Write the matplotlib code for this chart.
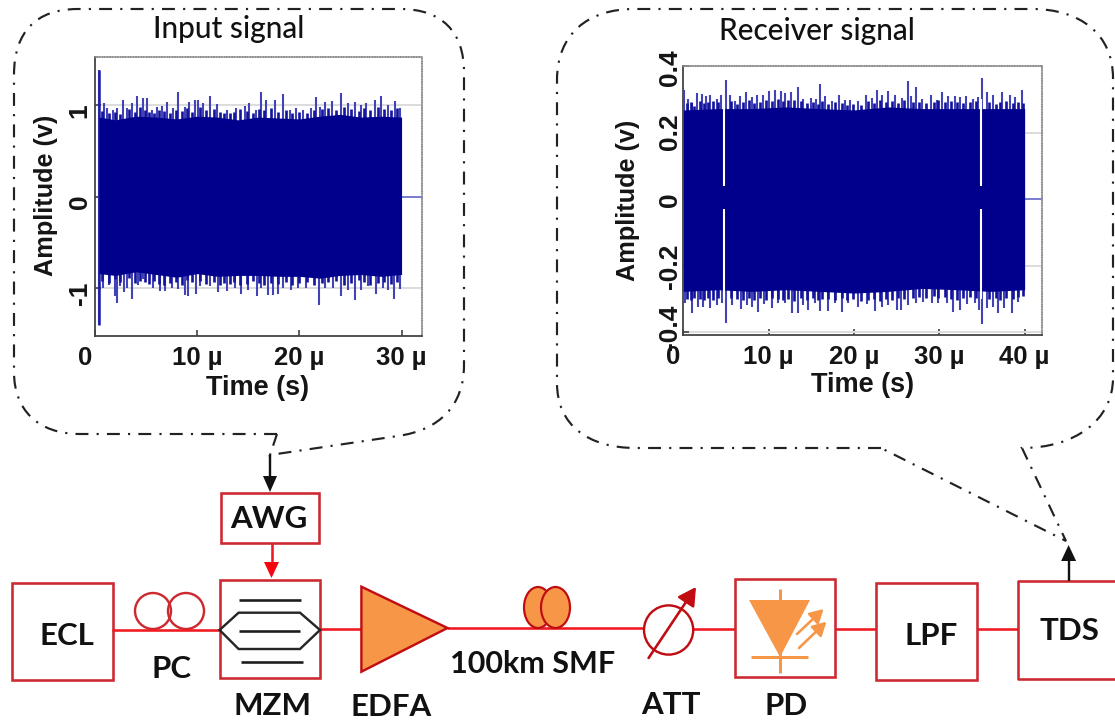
import matplotlib
matplotlib.use("Agg")
import matplotlib.pyplot as plt
from matplotlib.path import Path
from matplotlib.patches import PathPatch, Rectangle, Circle, Ellipse, Polygon
from matplotlib.transforms import ScaledTranslation

W, H = 1115, 724

# ---------- input signal ----------
in_up_t = [0.39,0.88,1.14,1.79,2.12,2.70,3.09,3.58,4.07,4.66,5.05,5.54,6.02,6.51,7.07,7.59,8.14,8.79,9.22,9.77,
           10.10,10.58,11.30,11.89,12.87,13.84,14.66,15.08,15.80,16.22,16.77,17.59,18.40,19.05,19.71,20.36,21.17,
           21.59,21.99,22.47,23.22,24.10,24.75,25.41,26.06,26.55,27.36,28.01,28.66,29.31,29.80]
in_up_v = [1.39,1.02,0.97,0.95,0.97,1.06,0.97,1.02,1.10,1.08,1.08,0.95,0.98,0.99,1.03,0.97,1.14,0.98,1.04,1.06,
           1.06,1.02,1.10,1.01,0.95,0.97,0.99,1.02,0.95,1.14,1.06,1.06,1.12,0.95,0.97,0.95,0.97,
           1.09,0.98,1.03,1.05,1.13,1.02,1.03,1.00,1.02,1.06,1.10,1.00,1.05,0.97]
in_lo_t = [0.39,0.81,1.40,1.95,2.18,2.44,2.83,3.16,3.61,4.23,4.72,5.70,6.35,6.84,7.49,8.14,8.79,9.12,9.87,10.26,
           11.24,12.05,12.87,13.68,14.33,14.98,15.86,16.29,16.94,17.43,17.91,18.40,19.22,19.87,20.68,21.92,22.47,
           23.29,24.10,24.75,25.47,26.06,26.71,27.46,28.18,28.66,29.22,29.80]
in_lo_v = [-1.40,-1.00,-0.96,-1.09,-1.16,-0.98,-1.04,-1.00,-1.12,-0.96,-0.90,-1.00,-1.03,-1.03,-1.00,-1.01,-1.07,-1.09,-1.06,-0.98,
           -0.98,-1.04,-1.03,-1.00,-1.06,-1.02,-1.08,-1.00,-1.07,-1.07,-1.06,-1.00,-1.02,-1.00,-1.00,-1.18,-1.00,
           -1.00,-1.08,-1.02,-1.13,-1.02,-0.98,-1.06,-1.00,-1.02,-1.12,-1.01]
in_core_t = [0.4,2,4,6,8,10,12,14,16,18,20,22,24,26,28,30]
in_core_up = [0.87,0.84,0.88,0.87,0.85,0.88,0.87,0.84,0.87,0.86,0.85,0.88,0.90,0.87,0.88,0.87]
in_core_lo = [-0.84,-0.86,-0.82,-0.85,-0.88,-0.84,-0.87,-0.86,-0.86,-0.87,-0.87,-0.89,-0.86,-0.85,-0.87,-0.85]
in_edge_t = [0.7,1.4,2.0,2.4,3.3,3.9,4.4,4.9,5.3,5.8,6.3,6.8,7.3,7.9,8.5,9.0,9.5,10.3,10.9,11.6,12.2,12.6,13.2,13.6,
             14.2,14.9,15.5,16.0,16.5,17.2,17.9,18.7,19.3,20.0,20.7,21.4,22.2,22.8,23.6,24.4,25.1,25.8,26.3,26.9,
             27.7,28.3,29.0,29.6]
in_edge_up = [0.94,0.91,0.93,0.90,0.96,0.93,0.98,0.95,0.93,0.92,0.95,0.94,0.91,0.95,0.94,0.97,0.93,0.98,0.95,0.96,0.93,
              0.91,0.92,0.93,0.96,0.94,0.92,0.96,0.95,0.97,0.93,0.95,0.91,0.93,0.92,0.95,0.96,0.97,0.95,0.98,0.96,0.94,
              0.97,0.95,0.98,0.96,0.95,0.97]
in_edge_lo = [-0.92,-0.94,-0.90,-0.93,-0.89,-0.94,-0.92,-0.93,-0.95,-0.92,-0.95,-0.96,-0.94,-0.93,-0.96,-0.91,-0.93,-0.92,
              -0.95,-0.93,-0.96,-0.94,-0.95,-0.93,-0.97,-0.95,-0.92,-0.94,-0.96,-0.94,-0.95,-0.93,-0.96,-0.94,-0.93,-0.96,
              -0.94,-0.93,-0.92,-0.96,-0.94,-0.91,-0.93,-0.96,-0.94,-0.93,-0.95,-0.93]
in_xticks = [0, 10, 20, 30]
in_xlabels = ["0", "10 µ", "20 µ", "30 µ"]
in_yticks = [-1, 0, 1]
in_ylabels = ["-1", "0", "1"]

# ---------- receiver signal ----------
rx_up_t = [0.12,0.59,1.06,1.57,2.16,2.62,3.13,3.91,4.38,4.97,5.48,6.06,6.65,7.35,8.01,8.60,9.38,10.05,10.75,11.45,
           11.92,12.62,13.48,14.07,14.97,15.51,16.02,16.61,17.39,18.25,18.95,19.54,20.51,21.37,22.08,22.66,23.33,
           24.03,24.81,25.59,26.30,26.65,27.23,27.94,29.03,29.69,30.28,31.06,31.84,32.43,33.09,33.99,34.50,35.05,
           35.55,36.33,37.39,38.29,38.87,39.66]
rx_up_v = [0.327,0.300,0.289,0.319,0.317,0.311,0.314,0.300,0.314,0.359,0.314,0.294,0.309,0.322,0.307,0.314,0.314,0.324,0.329,0.324,
           0.319,0.321,0.337,0.300,0.304,0.300,0.347,0.311,0.294,0.314,0.297,0.299,0.294,0.314,0.304,0.327,0.314,
           0.324,0.314,0.304,0.354,0.309,0.337,0.300,0.314,0.299,0.321,0.309,0.311,0.307,0.309,0.300,0.307,0.364,
           0.321,0.314,0.321,0.314,0.307,0.327]
rx_lo_t = [0.20,1.06,1.69,2.35,3.13,3.91,4.50,4.97,5.67,6.76,7.43,8.10,8.80,9.50,10.36,11.06,11.92,12.78,13.41,14.07,
           14.66,15.44,16.02,16.92,17.78,18.56,19.34,20.51,21.49,22.47,23.25,24.03,25.00,25.51,26.37,27.23,28.13,
           29.11,29.89,30.87,31.65,32.43,33.21,34.19,34.65,35.05,35.55,36.33,36.92,37.63,38.48,39.27]
rx_lo_v = [-0.313,-0.341,-0.323,-0.325,-0.328,-0.318,-0.313,-0.373,-0.318,-0.331,-0.318,-0.323,-0.338,-0.315,-0.328,-0.313,-0.313,-0.343,-0.343,-0.318,
           -0.333,-0.313,-0.335,-0.335,-0.313,-0.338,-0.313,-0.323,-0.315,-0.335,-0.325,-0.318,-0.333,-0.333,-0.318,-0.313,-0.308,
           -0.313,-0.311,-0.313,-0.338,-0.333,-0.315,-0.313,-0.333,-0.376,-0.328,-0.323,-0.343,-0.328,-0.341,-0.308]
rx_core_t = [0,4,8,12,16,20,24,28,32,36,40]
rx_core_up = [0.268,0.272,0.272,0.277,0.272,0.268,0.277,0.272,0.272,0.272,0.272]
rx_core_lo = [-0.277,-0.272,-0.277,-0.272,-0.277,-0.282,-0.277,-0.268,-0.272,-0.277,-0.272]
rx_edge_t = [0.4,0.9,1.3,1.9,2.4,2.9,3.5,4.1,5.6,6.3,7.0,7.7,8.3,9.0,9.7,10.4,11.1,11.7,12.3,13.0,13.8,14.5,15.2,15.8,
             16.3,17.0,17.8,18.6,19.2,19.9,20.8,21.7,22.3,23.0,23.7,24.4,25.2,25.9,26.9,27.6,28.4,29.4,29.9,30.7,31.4,
             32.1,32.8,33.6,34.3,35.8,36.6,37.1,37.8,38.6,39.2,39.8]
rx_edge_up = [0.288,0.291,0.281,0.294,0.289,0.292,0.296,0.291,0.295,0.285,0.292,0.298,0.290,0.293,0.298,0.296,0.301,0.294,
              0.297,0.299,0.295,0.290,0.293,0.287,0.296,0.285,0.291,0.288,0.284,0.287,0.283,0.294,0.290,0.298,0.293,0.295,
              0.288,0.297,0.291,0.293,0.289,0.292,0.297,0.291,0.295,0.293,0.289,0.292,0.294,0.293,0.287,0.292,0.295,0.288,
              0.293,0.290]
rx_edge_lo = [-0.299,-0.302,-0.296,-0.300,-0.304,-0.297,-0.303,-0.298,-0.296,-0.300,-0.303,-0.297,-0.302,-0.298,-0.304,-0.296,
              -0.299,-0.303,-0.300,-0.305,-0.298,-0.302,-0.296,-0.304,-0.301,-0.299,-0.303,-0.297,-0.302,-0.300,-0.305,-0.303,
              -0.301,-0.306,-0.299,-0.303,-0.298,-0.301,-0.296,-0.294,-0.298,-0.292,-0.297,-0.294,-0.299,-0.302,-0.296,-0.294,
              -0.298,-0.300,-0.296,-0.302,-0.298,-0.300,-0.293,-0.290]
rx_gap_t = [4.75, 34.9]
rx_gap_inner = [0.04, -0.03]
rx_gap_outer = [0.30, -0.30]
rx_xticks = [0, 10, 20, 30, 40]
rx_xlabels = ["0", "10 µ", "20 µ", "30 µ", "40 µ"]
rx_yticks = [-0.4, -0.2, 0, 0.2, 0.4]
rx_ylabels = ["-0.4", "-0.2", "0", "0.2", "0.4"]

NAVY = "#00008c"
SPIKE = "#4343b8"
TAIL = "#6a6ad0"
RED = "#ef1a22"
BOX = "#cc2a30"
DARKRED = "#c00d12"
ORANGE = "#f79646"
INK = "#1c1c1c"
TICKFONT = "Liberation Sans"

fig = plt.figure(figsize=(W / 100, H / 100), dpi=100, facecolor="white")
bg = fig.add_axes([0, 0, 1, 1])
bg.set_xlim(0, W)
bg.set_ylim(H, 0)
bg.axis("off")


def px(v):
    return v * 0.72


def line(xs, ys, color=RED, w=2.6, z=2):
    bg.plot(xs, ys, color=color, lw=px(w), solid_capstyle="butt", solid_joinstyle="miter", zorder=z)


def box(x0, y0, x1, y1, color=BOX, w=2.6):
    bg.add_patch(Rectangle((x0, y0), x1 - x0, y1 - y0, fc="white", ec=color, lw=px(w), zorder=3))


def head(x, y0, y1, half, color):
    bg.add_patch(Polygon([(x - half, y0), (x + half, y0), (x, y1)], closed=True, fc=color, ec="none", zorder=5))


def arrow(x0, y0, x1, y1, color, w=2.6, hw=6):
    bg.annotate("", xy=(x1, y1), xytext=(x0, y0), zorder=6,
                arrowprops=dict(arrowstyle=f"-|>,head_length={hw*0.09},head_width={hw*0.05}",
                                color=color, lw=px(w), shrinkA=0, shrinkB=0, mutation_scale=20))


def label(x, y, s, size=22.5, weight="bold"):
    bg.text(x, y, s, ha="center", va="center", fontsize=size, family="Lato", weight=weight, color="#111111", zorder=8)


# ---------- callouts ----------
M, L, C = Path.MOVETO, Path.LINETO, Path.CURVE4
DASH = (0, (6.0, 3.8, 1.0, 3.8))


def callout(verts, codes):
    bg.add_patch(PathPatch(Path(verts, codes), fc="none", ec="#222222", lw=1.55, linestyle=DASH, zorder=1))


callout(
    [(277, 434), (80, 434), (38, 434), (14, 410), (14, 372), (14, 75), (14, 32), (36, 9), (78, 9),
     (400, 9), (442, 9), (464, 32), (464, 72), (464, 365), (464, 405), (440, 430), (398, 436),
     (270, 455), (277, 434)],
    [M, L, C, C, C, L, C, C, C, L, C, C, C, L, C, C, C, L, L],
)
callout(
    [(881, 448), (636, 448), (588, 448), (557, 425), (557, 383), (557, 80), (557, 34), (588, 9), (634, 9),
     (1032, 9), (1080, 9), (1113, 34), (1113, 78), (1113, 378), (1113, 420), (1075, 448), (1022, 448),
     (1066, 541), (881, 448)],
    [M, L, C, C, C, L, C, C, C, L, C, C, C, L, C, C, C, L, L],
)
bg.text(229, 29, "Input signal", ha="center", va="center", fontsize=21.5, family="Lato", weight="medium",
        color="#111111", zorder=8)
bg.text(817, 31, "Receiver signal", ha="center", va="center", fontsize=21.5, family="Lato", weight="medium",
        color="#111111", zorder=8)

# ---------- optical link ----------
line([112, 219], [630, 630], z=4)
line([320, 362], [629, 629])
line([447, 644], [628, 628])
line([693, 735], [629, 629])
line([835, 877], [629, 629])
line([977, 1018], [629, 629])

box(12, 583, 112.5, 680)
bg.add_patch(Circle((153, 611), 18, fc="none", ec=BOX, lw=px(2.4), zorder=3))
bg.add_patch(Circle((186, 611), 18, fc="none", ec=BOX, lw=px(2.4), zorder=3))

box(221, 493, 319, 543)
line([271.5, 271.5], [543, 565])
head(271.5, 562, 578, 7.5, "#f5060e")
box(219.6, 580, 320, 678)
line([238.6, 300.7], [600, 600], INK, z=4)
line([238.6, 300], [631, 631], INK, z=4)
line([240.7, 302.5], [661.7, 661.7], INK, z=4)
bg.add_patch(Polygon([(219.6, 630), (238.6, 612.7), (300, 612.7), (320, 630), (300, 649), (238.6, 649)],
                     closed=True, fc="none", ec="#262626", lw=px(2.4), zorder=4))

bg.add_patch(Polygon([(361.4, 586.7), (361.4, 671.7), (447.5, 628)], closed=True, fc=ORANGE, ec=DARKRED,
                     lw=px(2.4), zorder=4))

bg.add_patch(Ellipse((538, 607.5), 28, 41, fc=ORANGE, ec=DARKRED, lw=px(2.2), zorder=3))
bg.add_patch(Ellipse((555.5, 607.5), 29, 41, fc=ORANGE, ec=DARKRED, lw=px(2.2), zorder=4))

bg.add_patch(Circle((668.6, 630), 24.6, fc="white", ec=DARKRED, lw=px(2.4), zorder=3))
arrow(648.6, 658, 696, 587, DARKRED)

box(734.6, 579.3, 835.4, 677.3)
bg.add_patch(Polygon([(749, 600), (810, 600), (780, 657)], closed=True, fc=ORANGE, ec="none", zorder=4))
line([780, 780], [589, 673], ORANGE, 3, 4)
line([751.4, 808], [656.7, 656.7], ORANGE, 3, 4)
arrow(797, 634, 823.6, 609, ORANGE, 2.6, 4.5)
arrow(799, 648, 826.4, 621.7, ORANGE, 2.6, 4.5)

box(876.4, 582.7, 977, 680)
bg.plot([1125, 1018, 1018, 1125], [581.3, 581.3, 679.3, 679.3], color=BOX, lw=px(2.6), zorder=3)

line([270, 270], [455, 480], "#111111", 2.4, 5)
head(270, 476, 492, 7, "#111111")
line([1068.6, 1068.6], [581, 556], "#111111", 2.4, 5)
head(1068.6, 561, 545, 7.5, "#111111")

label(67, 636, "ECL")
label(171.4, 669, "PC")
label(268.6, 519, "AWG")
label(272, 705.7, "MZM")
label(391, 706.7, "EDFA")
label(533, 664, "100km SMF", 22)
label(671, 705, "ATT")
label(786.4, 706, "PD")
label(930.7, 636, "LPF")
label(1069, 630.7, "TDS")


# ---------- waveform panels ----------
def panel(box_px, xlim, ylim, xticks, xlabels, yticks, ylabels):
    x0, y0, x1, y1 = box_px
    ax = fig.add_axes([x0 / W, 1 - y1 / H, (x1 - x0) / W, (y1 - y0) / H], facecolor="white")
    ax.set_xlim(*xlim)
    ax.set_ylim(*ylim)
    ax.set_xticks(xticks, xlabels)
    ax.set_yticks(yticks, ylabels)
    ax.grid(axis="y", color="#dcdcdc", lw=1.4, zorder=0)
    ax.set_axisbelow(True)
    ax.tick_params(axis="both", direction="in", length=4, width=1.1, color="#333333", pad=7.5, labelcolor="#151515")
    for t in ax.get_xticklabels():
        t.set_fontsize(18.5)
        t.set_fontfamily(TICKFONT)
        t.set_fontweight("bold")
    for t in ax.get_yticklabels():
        t.set_fontsize(19)
        t.set_fontfamily(TICKFONT)
        t.set_fontweight("bold")
        t.set_rotation(90)
        t.set_rotation_mode("anchor")
        t.set_va("center")
        t.set_ha("center")
    for s in ("left", "bottom"):
        ax.spines[s].set_color("#444444")
        ax.spines[s].set_linewidth(1.3)
    for s in ("top", "right"):
        ax.spines[s].set_color("#8f8f8f")
        ax.spines[s].set_linewidth(1.1)
        ax.spines[s].set_linestyle((0, (1, 0.7)))
    return ax


def waveform(ax, up_t, up_v, lo_t, lo_v, edge_t, edge_up, edge_lo, core_t, core_up, core_lo, end, xmax):
    ax.plot([end, xmax], [0, 0], color=TAIL, lw=1.2, zorder=2, clip_on=False)
    ax.vlines(up_t, 0, up_v, color=SPIKE, lw=1.5, zorder=3)
    ax.vlines(lo_t, lo_v, 0, color=SPIKE, lw=1.5, zorder=3)
    ax.vlines(edge_t, edge_lo, edge_up, color="#12129a", lw=1.9, zorder=3.5)
    ax.fill_between(core_t, core_lo, core_up, color=NAVY, lw=0, zorder=4)


axL = panel((95, 57, 422, 336), (0, 32), (-1.522, 1.527), in_xticks, in_xlabels, in_yticks, in_ylabels)
waveform(axL, in_up_t, in_up_v, in_lo_t, in_lo_v, in_edge_t, in_edge_up, in_edge_lo,
         in_core_t, in_core_up, in_core_lo, 30, 32)
axL.vlines([0.39], [-1.40], [1.39], color="#1d1da8", lw=1.8, zorder=3)

axR = panel((683.3, 66, 1041.7, 335), (0, 42), (-0.408, 0.400), rx_xticks, rx_xlabels, rx_yticks, rx_ylabels)
waveform(axR, rx_up_t, rx_up_v, rx_lo_t, rx_lo_v, rx_edge_t, rx_edge_up, rx_edge_lo,
         rx_core_t, rx_core_up, rx_core_lo, 40, 42)
axR.vlines(rx_gap_t, rx_gap_inner[0], rx_gap_outer[0], color="white", lw=1.5, zorder=5)
axR.vlines(rx_gap_t, rx_gap_outer[1], rx_gap_inner[1], color="white", lw=1.5, zorder=5)


def nudge(lbl, dx, dy):
    lbl.set_transform(lbl.get_transform() + ScaledTranslation(dx / 100, -dy / 100, fig.dpi_scale_trans))


nudge(axL.get_xticklabels()[0], -10, 0)
nudge(axR.get_xticklabels()[0], -10, 0)
for t in axL.get_yticklabels():
    nudge(t, -5, 5)
for t, dy in zip(axR.get_yticklabels(), (-5, 1, 1, -1, 2)):
    nudge(t, -3, dy)

for tx, ty, s in [(46, 195, "Amplitude (v)"), (628, 200, "Amplitude (v)")]:
    bg.text(tx, ty, s, rotation=90, ha="center", va="center", fontsize=18.2, family=TICKFONT, weight="bold",
            color="#151515", zorder=9)
bg.text(258, 388, "Time (s)", ha="center", va="center", fontsize=19.5, family=TICKFONT, weight="bold",
        color="#151515", zorder=9)
bg.text(863, 385, "Time (s)", ha="center", va="center", fontsize=19.5, family=TICKFONT, weight="bold",
        color="#151515", zorder=9)

fig.savefig("out.png", dpi=100, facecolor="white")
